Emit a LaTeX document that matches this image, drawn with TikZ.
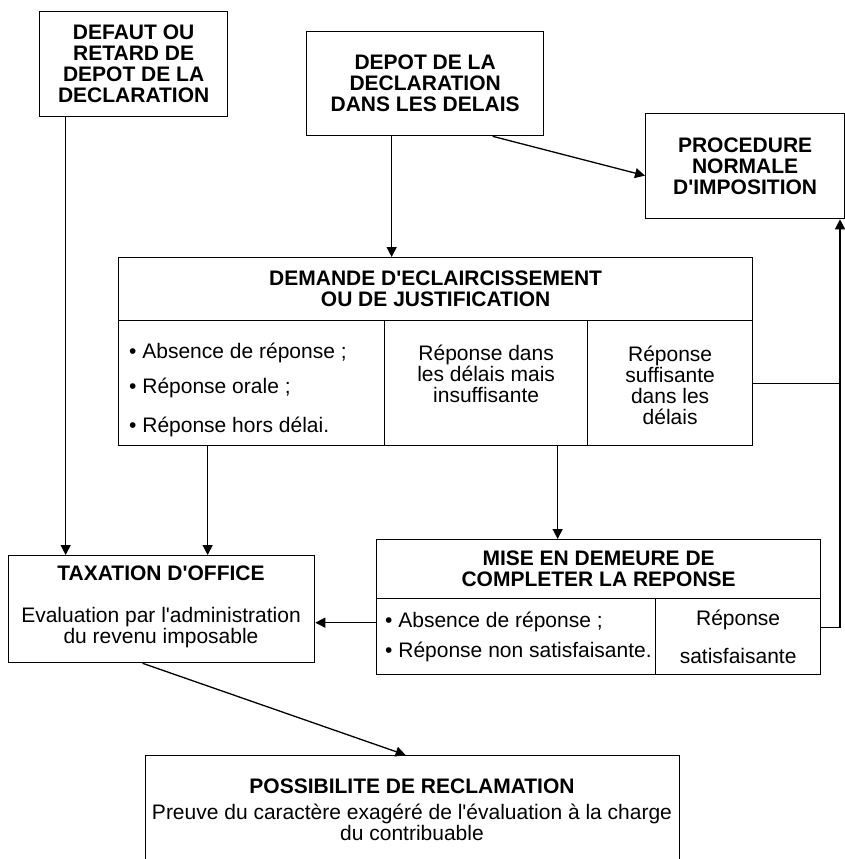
\documentclass[tikz,border=0pt]{standalone}
\usepackage{fontspec}
\setmainfont{Liberation Sans}[Ligatures=TeXOff]
\usetikzlibrary{arrows.meta,positioning}
\tikzset{
  box/.style={draw, line width=1.3pt, inner sep=0pt, anchor=north west, align=center,
    font=\fontsize{21}{21}\selectfont\bfseries},
  txt/.style={inner sep=0pt, align=center, font=\fontsize{21}{21}\selectfont},
  hd/.style={txt, font=\fontsize{21}{21}\selectfont\bfseries},
  arr/.style={line width=1.3pt, -{Triangle[length=10pt,width=10pt]}},
  ln/.style={line width=1.3pt}
}

\begin{document}
\begin{tikzpicture}[x=1pt,y=-1pt]
\clip (0,0) rectangle (845,859);
\coordinate (rail) at (840,0);
\node[box, minimum width=188, minimum height=105] (defaut) at (39,11) {DEFAUT OU\\RETARD DE\\DEPOT DE LA\\DECLARATION};
\node[box, minimum width=237, minimum height=104] (depot) at (306,31) {DEPOT DE LA\\DECLARATION\\DANS LES DELAIS};
\node[box, minimum width=199, minimum height=105] (proc) at (645,113) {PROCEDURE\\NORMALE\\D'IMPOSITION};
%
\node[box, minimum width=634, minimum height=63] (demH) at (118,257) {DEMANDE D'ECLAIRCISSEMENT\\OU DE JUSTIFICATION};
\node[box, minimum width=266, minimum height=125] (demA) at (118,320) {};
\node[box, minimum width=203, minimum height=125] (demB) at (384,320) {};
\node[box, minimum width=165, minimum height=125] (demC) at (587,320) {};
\foreach \t/\y [count=\i] in {Absence de réponse ;/353, Réponse orale ;/388, Réponse hors délai./427}{
\node[txt, anchor=west] (demA\i) at (129,\y) {\textbullet\ \t};
}
\node[txt] (demBt) at ([yshift=9.5pt]demB.center) {Réponse dans\\les délais mais\\insuffisante};
\node[txt] (demCt) at ([yshift=-2pt]demC.center) {Réponse\\suffisante\\dans les\\délais};
%
\node[box, minimum width=444, minimum height=59] (miseH) at (376,539) {MISE EN DEMEURE DE\\COMPLETER LA REPONSE};
\node[box, minimum width=279, minimum height=76] (miseA) at (376,598) {};
\node[box, minimum width=165, minimum height=76] (miseB) at (655,598) {};
\node[txt, anchor=west] (miseA1) at (385,622) {\textbullet\ Absence de réponse ;};
\node[txt, anchor=west] (miseA2) at (385,652) {\textbullet\ Réponse non satisfaisante.};
\node[txt] (miseBt) at (miseB.center) {Réponse\\[17pt]satisfaisante};
%
\node[box, minimum width=306, minimum height=107] (taxe) at (8,555) {};
\node[hd] (taxeT) at (161,573) {TAXATION D'OFFICE};
\node[txt] (taxeB) at (161,628) {Evaluation par l'administration\\du revenu imposable};
\node[box, minimum width=534, minimum height=120] (recl) at (145,755) {};
\node[hd] (reclT) at (412,786) {POSSIBILITE DE RECLAMATION};
\node[txt] (reclB) at (412,822) {Preuve du caractère exagéré de l'évaluation à la charge\\du contribuable};
%
\draw[arr] ([xshift=-68pt]defaut.south) -- ([xshift=-68pt]defaut.south |- taxe.north);
\draw[arr] ([xshift=-33.5pt]depot.south) -- ([xshift=-33.5pt]depot.south |- demH.north);
\draw[arr] ([xshift=67.5pt]depot.south) -- ([yshift=-9.5pt]proc.west);
\draw[arr] ([xshift=-44pt]demA.south) -- ([xshift=-44pt]demA.south |- taxe.north);
\draw[arr] ([xshift=71.5pt]demB.south) -- ([xshift=71.5pt]demB.south |- miseH.north);
\draw[arr] ([yshift=14pt]miseA.west) -- ([yshift=14pt]miseA.west -| taxe.east);
\draw[ln] (demC.east) -- (demC.east -| rail);
\draw[arr] ([yshift=9pt]miseB.east) -| (proc.south -| rail);
\draw[arr] ([xshift=-19pt]taxe.south) -- ([xshift=-7pt]recl.north);
\end{tikzpicture}
\end{document}
